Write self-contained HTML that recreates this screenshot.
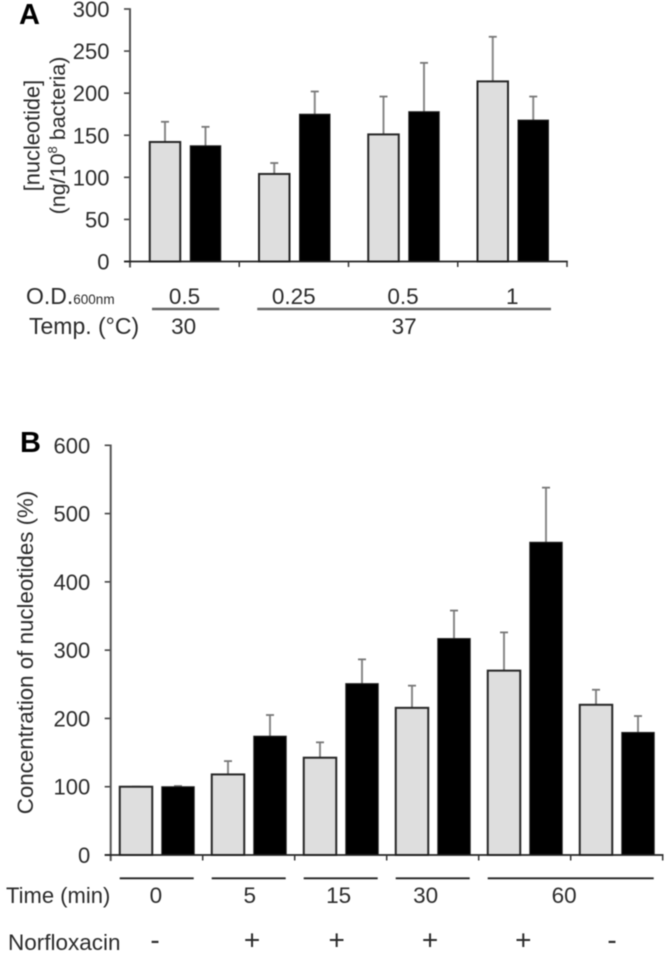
<!DOCTYPE html>
<html lang="en">
<head>
<meta charset="utf-8">
<title>Nucleotide concentration charts</title>
<style>
html,body{margin:0;padding:0;background:#fff;width:666px;height:955px;overflow:hidden}
svg{display:block;filter:blur(0.55px)}
text{font-family:"Liberation Sans",sans-serif;fill:#2b2b2b}
</style>
</head>
<body>
<svg id="figure" xmlns="http://www.w3.org/2000/svg" width="666" height="955" viewBox="0 0 666 955">
  <rect width="666" height="955" fill="#fff"/>
  <text x="19" y="24" font-size="29" font-weight="bold" style="fill:#000">A</text>
  <text x="20" y="452" font-size="29" font-weight="bold" style="fill:#000">B</text>

  <text transform="translate(39.5,135.5) rotate(-90)" text-anchor="middle" font-size="21.8">[nucleotide]</text>
  <text transform="translate(65,135.5) rotate(-90)" text-anchor="middle" font-size="21.5">(ng/10<tspan font-size="13" dy="-8">8</tspan><tspan dy="8"> bacteria)</tspan></text>
  <text transform="translate(33,652.5) rotate(-90)" text-anchor="middle" font-size="22.3">Concentration of nucleotides (%)</text>

  <text x="26" y="304" font-size="23">O.D.<tspan font-size="13.5">600nm</tspan></text>
  <text x="29" y="334" font-size="23">Temp. (°C)</text>
  <text x="6" y="903" font-size="22">Time (min)</text>
  <text x="8" y="950" font-size="22.5">Norfloxacin</text>
  <g id="marks"></g>
</svg>
<script>
// Panel A data
const aConditions = ['0.5 / 30', '0.25 / 37', '0.5 / 37', '1 / 37'];
const aLight = [142, 104, 151, 214];
const aDark = [137.5, 175, 178, 168];
const aLightUpper = [166, 117, 196, 267];
const aDarkUpper = [160, 202, 236, 196];
const aTicks = [0, 50, 100, 150, 200, 250, 300];
const aOdLabels = ['0.5', '0.25', '0.5', '1'];
const aTempLabels = ['30', '37'];
const aTempFirst = [0, 1];
const aTempLast = [0, 3];

// Panel B data
const bConditions = ['0 -', '5 +', '15 +', '30 +', '60 +', '60 -'];
const bLight = [100, 118, 142.5, 215.5, 270, 220];
const bDark = [100, 174, 251, 317, 458, 179.5];
const bLightUpper = [100, 137.5, 165, 248, 326, 242];
const bDarkUpper = [101, 205, 286.5, 358, 538, 203.5];
const bTicks = [0, 100, 200, 300, 400, 500, 600];
const bTimeLabels = ['0', '5', '15', '30', '60'];
const bTimeFirst = [0, 1, 2, 3, 4];
const bTimeLast = [0, 1, 2, 3, 5];
const bDrug = ['-', '+', '+', '+', '+', '-'];

const NS = 'http://www.w3.org/2000/svg';
const root = document.getElementById('marks');

function make(tag, attrs, text) {
  const el = document.createElementNS(NS, tag);
  for (const k in attrs) el.setAttribute(k, attrs[k]);
  if (text !== undefined) el.textContent = text;
  root.appendChild(el);
  return el;
}

function drawPanel(p, prefix) {
  const y = v => p.y0 - v * (p.y0 - p.yTop) / p.max;
  const x = i => p.x0 + i * p.band;
  const n = p.light.length;

  // y ticks and labels
  p.ticks.forEach(t => {
    const tick = make('line', {x1: p.x0 - 6, x2: p.x0, y1: y(t), y2: y(t), stroke: '#444', 'stroke-width': 1.6});
    
    
    const label = make('text', {x: p.x0 - p.labelGap, y: y(t) + p.labelDy, 'text-anchor': 'end', 'font-size': 22}, String(t));
    
    
  });

  // bars and error bars
  for (let i = 0; i < n; i++) {
    [[p.light, p.lightUpper, p.offLight, '#dedede', '#262626'], [p.dark, p.darkUpper, p.offDark, '#000', '#222']].forEach((s, j) => {
      const cx = x(i) + s[2];
      const stem = make('line', {x1: cx, x2: cx, y1: y(s[1][i]), y2: y(s[0][i]), stroke: '#888', 'stroke-width': 2});
      
      
      const cap = make('line', {x1: cx - 4, x2: cx + 4, y1: y(s[1][i]), y2: y(s[1][i]), stroke: '#777', 'stroke-width': 1.8});
      
      
      const bar = make('rect', {x: cx - p.barW / 2, y: y(s[0][i]), width: p.barW, height: p.y0 - y(s[0][i]), fill: s[3], stroke: s[4], 'stroke-width': j ? 1 : 2});
      
      
    });
  }

  // axes
  const yAxis = make('line', {x1: p.x0, x2: p.x0, y1: p.yTop - 0.8, y2: p.y0 + 6, stroke: '#555', 'stroke-width': 2});
  
  
  const xAxis = make('line', {x1: p.x0 - 6, x2: x(n) + 0.8, y1: p.y0, y2: p.y0, stroke: '#222', 'stroke-width': 1.7});
  
  
  for (let i = 1; i <= n; i++) {
    const t = make('line', {x1: x(i), x2: x(i), y1: p.y0, y2: p.y0 + 5.5, stroke: '#333', 'stroke-width': 1.5});
    
    
  }

  return {x, y};
}

const A = drawPanel({
  x0: 130, band: 109.25, y0: 261.5, yTop: 9, max: 300,
  light: aLight, dark: aDark, lightUpper: aLightUpper, darkUpper: aDarkUpper,
  ticks: aTicks, offLight: 35, offDark: 75.5, barW: 30.5, labelGap: 20.5, labelDy: 8
}, 'panel-a');

const B = drawPanel({
  x0: 110.7, band: 92, y0: 855, yTop: 445.3, max: 600,
  light: bLight, dark: bDark, lightUpper: bLightUpper, darkUpper: bDarkUpper,
  ticks: bTicks, offLight: 25.3, offDark: 67.3, barW: 32.5, labelGap: 20.5, labelDy: 8
}, 'panel-b');

// Panel A condition rows
aOdLabels.forEach((t, i) => {
  const el = make('text', {x: A.x(i) + 54.5, y: 304, 'text-anchor': 'middle', 'font-size': 22.5}, t);
  
  
});
aTempLabels.forEach((t, i) => {
  const x1 = A.x(aTempFirst[i]) + (i ? 18 : 22);
  const x2 = A.x(aTempLast[i] + 1) - (i ? 16 : 20);
  const rule = make('line', {x1, x2, y1: 309, y2: 309, stroke: '#666', 'stroke-width': 2.4});
  
  
  const el = make('text', {x: (x1 + x2) / 2 - (i ? 0 : 2), y: 334, 'text-anchor': 'middle', 'font-size': 22.5}, t);
  
  
});

// Panel B condition rows
function drawConditionRows() {
  const timeNudge = [-0.8, 1, -2, -7, -6.5];
  const drugNudge = [-1.7, 3.3, -4, -2.7, -1.4, -4.7];
  bTimeLabels.forEach((t, i) => {
    const x1 = B.x(bTimeFirst[i]) + 9;
    const x2 = B.x(bTimeLast[i] + 1) - 9;
    const rule = make('line', {x1, x2, y1: 878.3, y2: 878.3, stroke: '#222', 'stroke-width': 1.8});
    
    
    const el = make('text', {x: (x1 + x2) / 2 + timeNudge[i], y: 903, 'text-anchor': 'middle', 'font-size': 22.5}, t);
    
    
  });
  bDrug.forEach((t, i) => {
    const el = make('text', {x: B.x(i) + 46 + drugNudge[i], y: 949.5, 'text-anchor': 'middle', 'font-size': 28}, t);
    
    
  });
}
drawConditionRows();
</script>
</body>
</html>
